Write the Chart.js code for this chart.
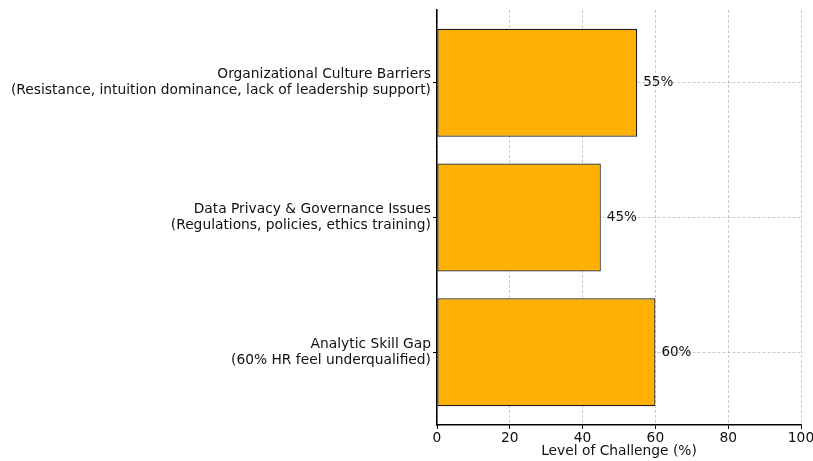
<!DOCTYPE html>
<html>
<head>
<meta charset="utf-8">
<script src="https://cdn.jsdelivr.net/npm/chart.js@4"></script>
<style>
  html, body { margin: 0; padding: 0; background: #fff; }
  #wrap { width: 813px; height: 461px; }
</style>
</head>
<body>
<div id="wrap"><canvas id="myChart" width="813" height="461"></canvas></div>
<script>
// bottom to top, like matplotlib barh
var categories = [
  ['Analytic Skill Gap', '(60% HR feel underqualified)'],
  ['Data Privacy & Governance Issues', '(Regulations, policies, ethics training)'],
  ['Organizational Culture Barriers', '(Resistance, intuition dominance, lack of leadership support)']
];
var challengeLevels = [60, 45, 55];
var xTicks = [0, 20, 40, 60, 80, 100];

Chart.defaults.font.family = 'DejaVu Sans';
Chart.defaults.color = '#222';

var valueLabels = {
  id: 'valueLabels',
  afterDatasetsDraw: function(chart) {
    var ctx = chart.ctx;
    var meta = chart.getDatasetMeta(0);
    ctx.save();
    ctx.font = '13.5px DejaVu Sans';
    ctx.fillStyle = '#111';
    ctx.textAlign = 'left';
    ctx.textBaseline = 'middle';
    meta.data.forEach(function(bar, i) {
      ctx.fillText(challengeLevels[i] + '%', bar.x + 6, bar.y);
    });
    ctx.restore();
  }
};

var gridOpts = {
  offset: false,
  color: 'rgba(0,0,0,0.25)',
  lineWidth: 0.8,
  tickLength: 4,
  tickColor: '#000',
  tickWidth: 1,
  tickBorderDash: []
};

var ctx = document.getElementById('myChart').getContext('2d');
var myChart = new Chart(ctx, {
  type: 'bar',
  data: {
    datasets: [{
      data: challengeLevels.map(function(v, i) { return {x: v, y: i}; }),
      backgroundColor: '#FFB000',
      borderColor: '#1a1a1a',
      borderWidth: 1.2,
      borderSkipped: false,
      barPercentage: 0.8,
      categoryPercentage: 1.0
    }]
  },
  options: {
    indexAxis: 'y',
    responsive: false,
    animation: false,
    layout: { padding: { top: 10, right: 12, left: 0, bottom: 0 } },
    scales: {
      x: {
        type: 'linear',
        min: 0,
        max: 100,
        offset: false,
        afterBuildTicks: function(scale) {
          scale.ticks = xTicks.map(function(v) { return {value: v}; });
        },
        afterFit: function(scale) {
          scale.height = 36;
          scale.paddingLeft = 0;
          scale.paddingRight = 0;
        },
        grid: gridOpts,
        border: { display: true, color: '#000', width: 1.5, dash: [3, 2] },
        ticks: { font: { size: 13.8 }, color: '#111', padding: 1, maxRotation: 0 },
        title: {
          display: true,
          text: 'Level of Challenge (%)',
          font: { size: 13.8 },
          color: '#111',
          padding: { top: 0, bottom: 1 }
        }
      },
      y: {
        type: 'linear',
        min: -0.54,
        max: 2.54,
        offset: false,
        afterBuildTicks: function(scale) {
          scale.ticks = categories.map(function(c, i) { return {value: i}; });
        },
        afterFit: function(scale) {
          scale.width = 437;
          scale.paddingTop = 0;
          scale.paddingBottom = 0;
        },
        grid: gridOpts,
        border: { display: true, color: '#000', width: 1.5, dash: [3, 2] },
        ticks: {
          font: { size: 13.8, lineHeight: 1.15 },
          color: '#111',
          padding: 2,
          callback: function(v) { return categories[v] || ''; }
        }
      }
    },
    plugins: {
      legend: { display: false },
      tooltip: { enabled: false }
    }
  },
  plugins: [valueLabels]
});
</script>
</body>
</html>
